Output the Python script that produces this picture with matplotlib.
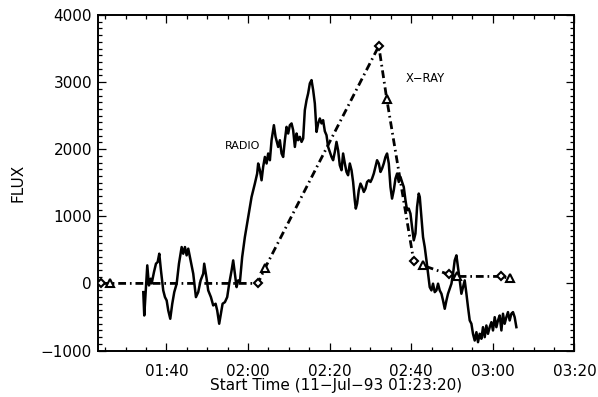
import matplotlib
matplotlib.use('Agg')
import matplotlib.pyplot as plt
from matplotlib.ticker import MultipleLocator, FuncFormatter

# time axis in minutes after 00:00 on 11-Jul-93, plot starts at 01:23:20
t_start = 83.333
t_end = 200.0

# radio flux trace
radio_t = [94.35, 94.59, 95.33, 95.74, 96.16, 96.41, 96.97, 97.46, 97.87, 98.27,
           98.68, 99.24, 99.66, 100.08, 100.47, 100.96, 101.45, 101.94, 102.53, 103.09,
           103.75, 104.14, 104.56, 104.97, 105.37, 105.78, 106.59, 107.25, 107.81, 108.40,
           109.04, 109.28, 109.87, 110.26, 110.92, 111.48, 112.07, 112.46, 112.95, 113.37,
           113.78, 114.35, 114.91, 115.40, 115.99, 116.38, 116.80, 117.21, 117.60, 118.02,
           118.58, 119.24, 120.05, 120.88, 121.69, 122.25, 122.50, 122.92, 123.33, 123.72,
           124.14, 124.56, 124.95, 125.37, 125.78, 126.35, 126.76, 127.40, 127.81, 128.23,
           128.62, 129.04, 129.45, 129.85, 130.26, 130.68, 131.07, 131.49, 131.90, 132.29,
           132.71, 133.13, 133.52, 133.93, 134.35, 134.74, 135.16, 135.57, 135.97, 136.38,
           136.80, 137.19, 137.61, 138.02, 138.41, 138.83, 139.24, 139.64, 140.05, 140.47,
           140.86, 141.28, 141.69, 142.08, 142.50, 142.92, 143.31, 143.73, 144.14, 144.53,
           144.95, 145.37, 145.76, 146.17, 146.42, 146.74, 147.15, 147.57, 147.96, 148.38,
           148.79, 149.19, 149.60, 150.02, 150.41, 150.83, 151.24, 151.63, 152.05, 152.47,
           152.86, 153.27, 153.69, 154.08, 154.50, 154.91, 155.30, 155.72, 156.14, 156.53,
           156.95, 157.36, 157.75, 158.17, 158.59, 158.98, 159.39, 159.81, 160.20, 160.62,
           161.03, 161.43, 161.84, 162.09, 162.50, 162.89, 163.31, 163.73, 164.12, 164.53,
           164.95, 165.34, 165.76, 166.17, 166.57, 166.98, 167.40, 167.79, 168.21, 168.62,
           169.01, 169.43, 169.85, 170.24, 170.65, 171.07, 171.46, 171.88, 172.29, 172.69,
           173.10, 173.52, 173.91, 174.33, 174.74, 175.13, 175.55, 175.97, 176.36, 176.77,
           177.19, 177.58, 178.00, 178.41, 178.80, 179.22, 179.64, 180.03, 180.45, 180.86,
           181.25, 181.67, 182.09, 182.48, 182.89, 183.31, 183.70, 184.12, 184.53, 184.93,
           185.34, 185.76]
radio_flux = [-130, -478, 269, -30, 70, 0, 169, 294, 318, 443,
              194, -104, -204, -254, -403, -527, -303, -130, -4, 294,
              542, 443, 542, 418, 518, 393, 145, -204, -130, 45,
              145, 294, 70, -104, -204, -328, -303, -403, -601, -452,
              -303, -279, -204, -4, 194, 343, 145, -55, 45, 19,
              393, 691, 990, 1288, 1488, 1637, 1787, 1687, 1537, 1736,
              1885, 1787, 1936, 1836, 2134, 2358, 2184, 2034, 2134, 1936,
              1885, 2134, 2333, 2234, 2358, 2384, 2284, 2034, 2234, 2134,
              2184, 2109, 2160, 2582, 2731, 2831, 2981, 3030, 2881, 2682,
              2258, 2384, 2458, 2384, 2433, 2268, 2209, 2034, 1960, 1885,
              1836, 1960, 2109, 1985, 1761, 1687, 1936, 1787, 1661, 1612,
              1787, 1687, 1512, 1239, 1115, 1190, 1388, 1488, 1437, 1363,
              1413, 1512, 1537, 1512, 1563, 1637, 1736, 1836, 1787, 1661,
              1712, 1787, 1885, 1936, 1787, 1437, 1264, 1388, 1563, 1637,
              1512, 1587, 1512, 1437, 1239, 1090, 1115, 1040, 840, 642,
              742, 1139, 1339, 1288, 990, 691, 542, 343, 145, -55,
              -104, -4, -130, -104, -4, -104, -154, -254, -378, -254,
              -154, -79, -4, 145, 343, 418, 243, 45, -154, -55,
              45, -154, -354, -552, -601, -751, -851, -727, -876, -751,
              -825, -652, -801, -627, -751, -652, -578, -701, -503, -652,
              -552, -478, -701, -452, -601, -503, -428, -552, -452, -428,
              -503, -652]

# x-ray flux, two interleaved channels (diamonds / triangles)
xray_d_t = [84.0, 122.43, 152.05, 160.62, 169.18, 181.91]
xray_d_flux = [0, 0, 3537, 328, 134, 104]
xray_tr_t = [86.20, 124.14, 154.01, 162.82, 171.14, 184.12]
xray_tr_flux = [0, 224, 2746, 269, 104, 75]


def hhmm(x, pos):
    h = int(round(x)) // 60
    m = int(round(x)) % 60
    return '%02d:%02d' % (h, m)


plt.rcParams['font.family'] = 'DejaVu Sans'
fig = plt.figure(figsize=(5.98, 3.97), dpi=100)
ax = fig.add_axes([0.1644, 0.1171, 0.7963, 0.8451])

ax.plot(radio_t, radio_flux, color='black', lw=1.8, zorder=2)

# merge both x-ray channels in time order for the connecting line
xr = sorted(zip(xray_d_t + xray_tr_t, xray_d_flux + xray_tr_flux))
ax.plot([p[0] for p in xr], [p[1] for p in xr], color='black', lw=2.0,
        linestyle=(0, (2.8, 1.4, 0.6, 1.4)), zorder=3)
ax.plot(xray_d_t, xray_d_flux, 'D', ms=4.2, mfc='white', mec='black', mew=1.5, zorder=4)
ax.plot(xray_tr_t, xray_tr_flux, '^', ms=6, mfc='white', mec='black', mew=1.5, zorder=4)

ax.text(118.76, 2045, 'RADIO', fontsize=8, ha='center', va='center')
ax.text(163.31, 3052, 'X\u2212RAY', fontsize=8.3, ha='center', va='center')

ax.set_xlim(t_start, t_end)
ax.set_ylim(-1000, 4000)
ax.xaxis.set_major_locator(MultipleLocator(20))
ax.xaxis.set_minor_locator(MultipleLocator(5))
ax.xaxis.set_major_formatter(FuncFormatter(hhmm))
ax.yaxis.set_major_locator(MultipleLocator(1000))
ax.yaxis.set_minor_locator(MultipleLocator(100))

ax.tick_params(which='both', direction='in', top=True, right=True, width=0.9, color='black')
ax.tick_params(which='major', length=6)
ax.tick_params(which='minor', length=3)
ax.tick_params(axis='x', which='major', pad=10, labelsize=11)
ax.tick_params(axis='y', which='major', pad=4.5, labelsize=11)
for s in ax.spines.values():
    s.set_linewidth(1.4)

ax.set_xlabel('Start Time (11\u2212Jul\u221293 01:23:20)', fontsize=11)
ax.set_ylabel('FLUX', fontsize=11)
ax.xaxis.set_label_coords(0.5, -0.082)
ax.yaxis.set_label_coords(-0.153, 0.5)

plt.savefig('out.png', dpi=100)
